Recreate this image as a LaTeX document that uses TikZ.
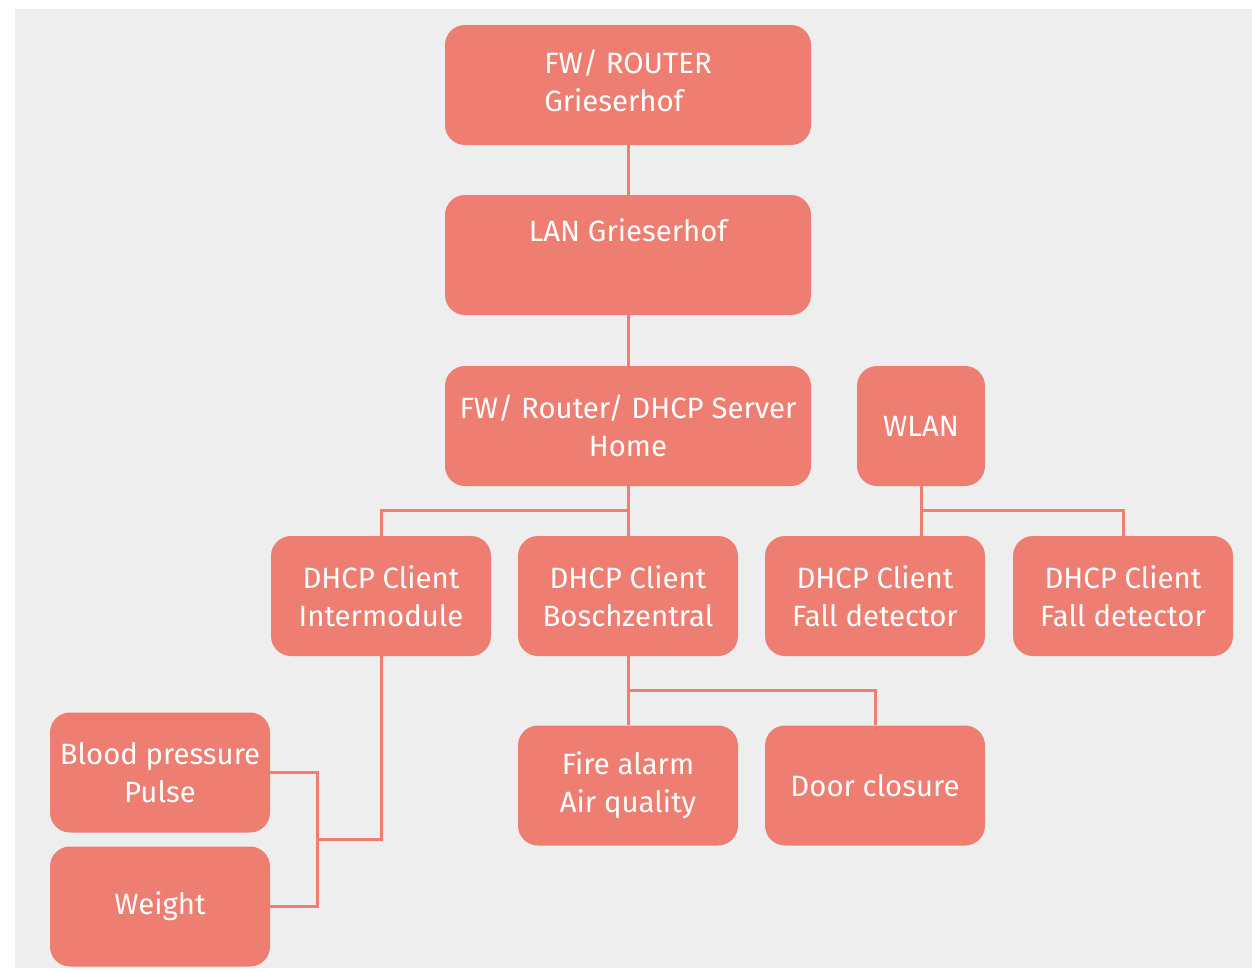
\documentclass[tikz,border=0pt]{standalone}
\usepackage{fontspec}
\setmainfont{Fira Sans}
\definecolor{bgc}{HTML}{EEEEEE}
\definecolor{boxc}{HTML}{ED7E71}
\begin{document}
\begin{tikzpicture}[x=0.75pt,y=-0.75pt,
  box/.style={fill=boxc,draw=none,rounded corners=15pt,text=white,
    font=\fontsize{22}{28.5}\selectfont,align=center,inner sep=0pt,
    minimum width=165pt,minimum height=90pt},
  wide/.style={box,minimum width=274.5pt},
  narrow/.style={box,minimum width=96pt},
  link/.style={draw=boxc,line width=2.25pt}]
\useasboundingbox (0,0) rectangle (1252,971);
\fill[bgc] (15,9) rectangle (1252,968);
\node[wide] (fw) at (628,85) {\begin{tabular}{@{}l@{}}FW/ ROUTER\\Grieserhof\end{tabular}};
\node[wide] (lan) at (628,255) {LAN Grieserhof\\\strut};
\node[wide] (dhcp) at (628,426) {FW/ Router/ DHCP Server\\Home};
\node[narrow] (wlan) at (921,426) {WLAN};
\node[box] (im) at (381,596) {DHCP Client\\Intermodule};
\node[box] (bz) at (628,596) {DHCP Client\\Boschzentral};
\node[box] (fd1) at (875,596) {DHCP Client\\Fall detector};
\node[box] (fd2) at (1123,596) {DHCP Client\\Fall detector};
\node[box] (fire) at (628,785.5) {Fire alarm\\Air quality};
\node[box] (door) at (875,785.5) {Door closure};
\node[box] (bp) at (160,772.5) {Blood pressure\\Pulse};
\node[box] (wt) at (160,906.5) {Weight};
\coordinate (j) at (317,839);
\draw[link] (fw) -- (lan);
\draw[link] (lan) -- (dhcp);
\draw[link] (dhcp.south) -- (bz.north);
\draw[link] (dhcp.south) -- ++(0,24) -| (im.north);
\draw[link] (wlan.south) -- (wlan.south |- fd1.north);
\draw[link] (wlan.south) -- ++(0,24) -| (fd2.north);
\draw[link] (bz.south) -- (fire.north);
\draw[link] (bz.south) -- ++(0,34) -| (door.north);
\draw[link] (im.south) |- (j);
\draw[link] (bp.east) -| (j);
\draw[link] (wt.east) -| (j);
\end{tikzpicture}
\end{document}
